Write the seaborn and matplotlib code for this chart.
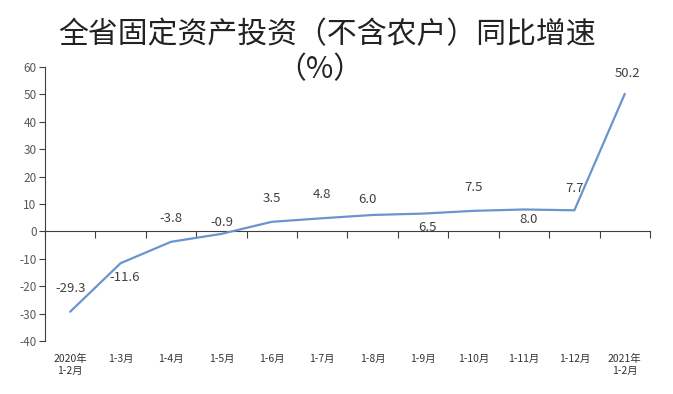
import matplotlib
matplotlib.use("Agg")
import matplotlib.pyplot as plt
import seaborn as sns
import pandas as pd
import numpy as np

categories = ["2020年\n1-2月", "1-3月", "1-4月", "1-5月", "1-6月", "1-7月", "1-8月",
              "1-9月", "1-10月", "1-11月", "1-12月", "2021年\n1-2月"]
values = [-29.3, -11.6, -3.8, -0.9, 3.5, 4.8, 6.0, 6.5, 7.5, 8.0, 7.7, 50.2]
value_labels = ["-29.3", "-11.6", "-3.8", "-0.9", "3.5", "4.8", "6.0", "6.5", "7.5", "8.0", "7.7", "50.2"]
# label offsets in points (dx, dy)
label_offsets = [(0, 17), (3, -10), (0, 17), (0, 8), (0, 17), (0, 17), (-4, 11),
                 (3, -10), (0, 17), (3, -7), (0, 16), (2, 15)]
yticks = [-40, -30, -20, -10, 0, 10, 20, 30, 40, 50, 60]

sns.set_theme(style="white")
plt.rcParams['font.family'] = ['Noto Sans CJK SC', 'DejaVu Sans']

df = pd.DataFrame({"pos": np.arange(len(categories)), "value": values})

fig = plt.figure(figsize=(6.73, 3.94), dpi=100)
ax = fig.add_axes([45/673, 1-341/394, (650-45)/673, (341-67)/394])

sns.lineplot(data=df, x="pos", y="value", ax=ax, color="#6A94CE", linewidth=1.6, sort=False)

ax.set_xlim(-0.5, len(categories) - 0.5)
ax.set_ylim(-40, 60)
ax.set_yticks(yticks)
ax.set_yticklabels([str(t) for t in yticks], fontsize=8.5, color="#595959")
ax.tick_params(axis="y", direction="out", length=4, width=0.8, color="#404040", pad=2, left=True)
ax.set_xlabel("")
ax.set_ylabel("")

for s in ["top", "right", "bottom"]:
    ax.spines[s].set_visible(False)
ax.spines["left"].set_color("#404040")
ax.spines["left"].set_linewidth(0.8)

# category labels at bottom
ax.set_xticks(np.arange(len(categories)))
ax.set_xticklabels(categories, fontsize=7.5, color="#333333", linespacing=1.35)
ax.tick_params(axis="x", length=0, pad=9)

# zero axis with ticks between categories
sec = ax.secondary_xaxis(location=0.4)
sec.set_xticks(np.arange(len(categories) + 1) - 0.5)
sec.set_xticklabels([])
sec.tick_params(axis="x", direction="out", length=5, width=0.8, color="#404040")
sec.spines["bottom"].set_color("#404040")
sec.spines["bottom"].set_linewidth(0.8)
sec.spines["top"].set_visible(False)

for i, (v, lab) in enumerate(zip(values, value_labels)):
    dx, dy = label_offsets[i]
    ax.annotate(lab, (i, v), xytext=(dx, dy), textcoords="offset points",
                ha="center", va="center", fontsize=9.5, color="#404040")

fig.text(327/673, 1-35/394, "全省固定资产投资（不含农户）同比增速", ha="center", va="center",
         fontsize=21.5, color="#222222")
fig.text(320/673, 1-70/394, "（%）", ha="center", va="center", fontsize=21.5, color="#222222")

fig.savefig("out.png", dpi=100)
